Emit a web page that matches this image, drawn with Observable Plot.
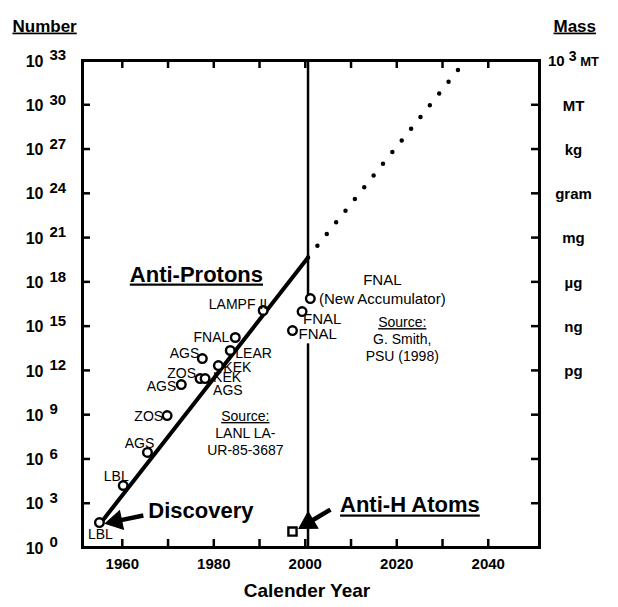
<!DOCTYPE html>
<html><head><meta charset="utf-8">
<script src="https://cdn.jsdelivr.net/npm/d3@7"></script>
<script src="https://cdn.jsdelivr.net/npm/@observablehq/plot@0.6"></script>
<style>body{margin:0;background:#fff}svg{display:block}</style>
</head><body><div id="chart"></div>
<script>
// ---- data (exponents are log10 of number) ----
const apNames = ["LBL","LBL","AGS","ZOS","AGS","ZOS","KEK\nAGS","AGS","KEK","LEAR","FNAL","LAMPF II","FNAL","FNAL","FNAL\n(New Accumulator)"];
const apYears = [1955.0,1960.2,1965.5,1969.8,1972.9,1977.0,1978.1,1977.5,1981.0,1983.6,1984.7,1990.8,1999.3,1997.2,2001.1];
const apExps  = [1.69,4.20,6.44,8.94,11.04,11.45,11.45,12.80,12.33,13.35,14.23,16.06,15.99,14.70,16.87];

const trendYears = [1955.2, 2000.6];
const trendExps  = [1.63, 19.65];
const projYears  = [2000.6, 2033.5];
const projExps   = [19.65, 32.4];

const antiHYears = [1997.2];
const antiHExps  = [1.08];

const dividerYear = 2000.6;
const dividerSegments = [[33, 16.87], [13.8, 0]];

const xTickYears = [1960,1970,1980,1990,2000,2010,2020,2030,2040];
const xTickLabels = [1960,1980,2000,2020,2040];
const yTickExps = [0,3,6,9,12,15,18,21,24,27,30,33];
const massExps = [33,30,27,24,21,18,15,12];
const massLabels = ["10³ MT","MT","kg","gram","mg","µg","ng","pg"];

const titles = {
  antiProtons: {text: "Anti-Protons", year: 1976.2, exp: 18.5},
  discovery: {text: "Discovery", year: 1965.7, exp: 2.5},
  antiH: {text: "Anti-H Atoms", year: 2007.6, exp: 2.85},
  srcLeft: {text: "Source:\nLANL LA-\nUR-85-3687", year: 1986.9, exp: 7.8},
  srcRight: {text: "Source:\nG. Smith,\nPSU (1998)", year: 2021.2, exp: 14.16}
};
const arrowFromYears = [1964.6, 2005.5];
const arrowFromExps  = [2.17, 2.57];
const arrowToYears   = [1956.3, 1998.6];
const arrowToExps    = [1.63, 1.29];

// label placement (style): [textAnchor, dx, dy, fontSize]
const labelPlacement = [
  ["middle",1,11,14],["middle",-7,-10,14],["middle",-8,-10,14],["end",-4,0,14],
  ["end",-5,1,14],["end",-4,-6,14],["start",8,6,14],["end",-3,-6,14],
  ["start",5,1,14],["start",5,2,14],["end",-6,-1,14],["end",4,-7,14],
  ["start",1,6,15],["start",6,2,15],["middle",72,-10,15]
];

const FONT = "'Liberation Sans', Arial, Helvetica, sans-serif";
const W = 618, H = 607, ML = 82, MR = 79, MT = 60, MB = 60;
const X_DOMAIN = [1951.3, 2051.2], Y_DOMAIN = [1, 1e33];

// scales used to build filled arrowheads in screen space
const sx = Plot.scale({x: {domain: X_DOMAIN, range: [ML, W - MR]}});
const sy = Plot.scale({y: {type: "log", domain: Y_DOMAIN, range: [H - MB, MT]}});
const HEAD_H = 16.5, HEAD_HALF = HEAD_H / 3; // centroid-to-base distance
const shafts = [], heads = [];
arrowFromYears.forEach((_, i) => {
  const p1 = [sx.apply(arrowFromYears[i]), sy.apply(10 ** arrowFromExps[i])];
  const p2 = [sx.apply(arrowToYears[i]), sy.apply(10 ** arrowToExps[i])];
  const len = Math.hypot(p2[0] - p1[0], p2[1] - p1[1]);
  const u = [(p2[0] - p1[0]) / len, (p2[1] - p1[1]) / len];
  const c = [p2[0] - u[0] * 2 * HEAD_HALF, p2[1] - u[1] * 2 * HEAD_HALF];
  const b = [p2[0] - u[0] * (HEAD_H - 3), p2[1] - u[1] * (HEAD_H - 3)];
  shafts.push({x1: arrowFromYears[i], v1: 10 ** arrowFromExps[i], x2: sx.invert(b[0]), v2: sy.invert(b[1])});
  heads.push({x: sx.invert(c[0]), v: sy.invert(c[1]), rot: Math.atan2(u[0], -u[1]) * 180 / Math.PI});
});

const marks = [];

// divider line at 2000
dividerSegments.forEach(([a,b]) => {
  marks.push(Plot.ruleX([dividerYear], {y1: 10**a, y2: 10**b, strokeWidth: 2.5, stroke: "black"}));
});

// trend and projection
marks.push(Plot.line(trendYears.map((y,i)=>({year:y, v:10**trendExps[i]})), {x:"year", y:"v", strokeWidth:4, stroke:"black"}));
marks.push(Plot.line(projYears.map((y,i)=>({year:y, v:10**projExps[i]})), {x:"year", y:"v", strokeWidth:4.5, stroke:"black", strokeDasharray:"0 15", strokeLinecap:"round", strokeDashoffset: -15}));

// arrows: thick shaft + filled head
marks.push(Plot.link(shafts, {x1:"x1", y1:"v1", x2:"x2", y2:"v2", strokeWidth:4.5, stroke:"black"}));
const triSize = 3 * Math.sqrt(3) * HEAD_HALF * HEAD_HALF;
marks.push(Plot.dot(heads, {x:"x", y:"v", symbol:"triangle", r:Math.sqrt(triSize/Math.PI), rotate:"rot", fill:"black", stroke:"black", strokeWidth:1}));

// points
const idx = apNames.map((_,i)=>i);
marks.push(Plot.dot(idx, {x:i=>apYears[i], y:i=>10**apExps[i], r:4.3, fill:"white", stroke:"black", strokeWidth:2.4}));
marks.push(Plot.dot(antiHYears.map((y,i)=>({year:y, v:10**antiHExps[i]})), {x:"year", y:"v", symbol:"square", r:4.6, fill:"white", stroke:"black", strokeWidth:2.4}));

// point labels
idx.forEach(i => {
  const [ta, dx, dy, fs] = labelPlacement[i];
  marks.push(Plot.text([i], {x:i=>apYears[i], y:i=>10**apExps[i], text:i=>apNames[i], textAnchor:ta, dx, dy, fontSize:fs, lineHeight: i===6 ? 0.95 : 1.27, fontFamily: FONT}));
});

// big titles
marks.push(Plot.text([titles.antiProtons], {x:"year", y:d=>10**d.exp, text:"text", fontSize:22, fontWeight:"bold", textAnchor:"middle", fontFamily:FONT}));
marks.push(Plot.text([titles.discovery], {x:"year", y:d=>10**d.exp, text:"text", fontSize:22, fontWeight:"bold", textAnchor:"start", fontFamily:FONT}));
marks.push(Plot.text([titles.antiH], {x:"year", y:d=>10**d.exp, text:"text", fontSize:22, fontWeight:"bold", textAnchor:"start", fontFamily:FONT}));
marks.push(Plot.text([titles.srcLeft, titles.srcRight], {x:"year", y:d=>10**d.exp, text:"text", fontSize:14, lineHeight:1.2, textAnchor:"middle", fontFamily:FONT}));

// frame and ticks
const FW = W-ML-MR, FH = H-MT-MB, TL = 8;
marks.push(Plot.frame({stroke:"black", strokeWidth:3}));
marks.push(Plot.tickX(xTickYears, {x:d=>d, insetTop:FH-TL, strokeWidth:2.5}));
marks.push(Plot.tickX(xTickYears, {x:d=>d, insetBottom:FH-TL, strokeWidth:2.5}));
marks.push(Plot.tickY(yTickExps.slice(1,-1), {y:d=>10**d, insetRight:FW-TL, strokeWidth:2.5}));
marks.push(Plot.tickY(yTickExps.slice(1,-1), {y:d=>10**d, insetLeft:FW-TL, strokeWidth:2.5}));

// tick labels
marks.push(Plot.text(xTickLabels, {x:d=>d, frameAnchor:"bottom", dy:21, text:d=>String(d), fontSize:15, fontWeight:"bold", fontFamily:FONT}));
marks.push(Plot.text(yTickExps, {y:d=>10**d, frameAnchor:"left", dx:-39, dy:1, text:()=> "10", textAnchor:"end", fontSize:16, fontWeight:"bold", fontFamily:FONT}));
marks.push(Plot.text(yTickExps, {y:d=>10**d, frameAnchor:"left", dx:-33, dy:-5, text:d=>String(d), textAnchor:"start", fontSize:15, fontWeight:"bold", fontFamily:FONT}));
marks.push(Plot.text(massExps, {y:d=>10**d, frameAnchor:"right", dx:34, dy:1, text:(d,i)=>massLabels[i], textAnchor:"middle", fontSize:15, fontWeight:"bold", fontFamily:FONT}));

// axis titles
marks.push(Plot.text(["Number"], {frameAnchor:"top-left", dx:-70, dy:-41, textAnchor:"start", fontSize:17, fontWeight:"bold", fontFamily:FONT}));
marks.push(Plot.text(["Mass"], {frameAnchor:"top-right", dx:14, dy:-41, textAnchor:"start", fontSize:17, fontWeight:"bold", fontFamily:FONT}));
marks.push(Plot.text(["Calender Year"], {frameAnchor:"bottom", dx:-4, dy:49, textAnchor:"middle", fontSize:19, fontWeight:"bold", fontFamily:FONT}));

const chart = Plot.plot({
  width: W, height: H,
  marginLeft: ML, marginRight: MR, marginTop: MT, marginBottom: MB,
  x: {domain: X_DOMAIN, axis: null},
  y: {type: "log", domain: Y_DOMAIN, axis: null},
  style: {background: "white", color: "black", fontFamily: FONT},
  marks
});
document.getElementById("chart").appendChild(chart);

// underline selected texts and build the superscript in the top mass label
const underline = new Set(["Anti-Protons","Anti-H Atoms","Number","Mass","Source:"]);
d3.select(chart).selectAll("text, tspan").each(function() {
  const hasTspan = this.tagName === "text" && this.querySelector("tspan");
  if (!hasTspan && underline.has(this.textContent)) this.style.textDecoration = "underline";
  if (this.tagName === "text" && this.textContent === "10³ MT") {
    const t = d3.select(this); t.text(null);
    t.append("tspan").text("10 ");
    t.append("tspan").attr("dy", -5).attr("font-size", 14).text("3");
    t.append("tspan").attr("dy", 5).attr("font-size", 13).text(" MT");
  }
});
</script></body></html>
